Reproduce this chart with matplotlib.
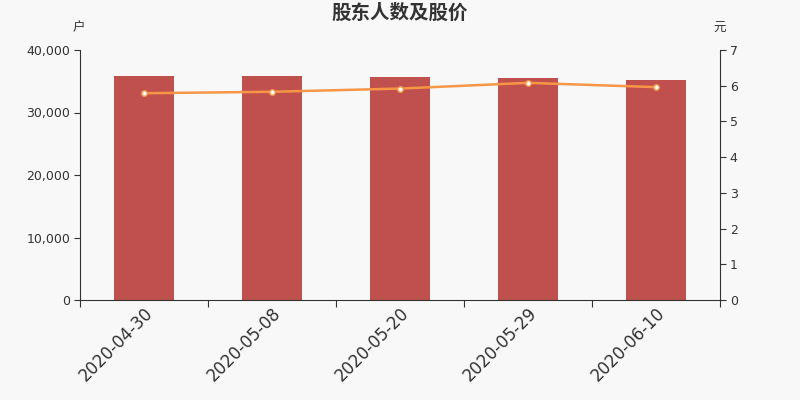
import matplotlib.pyplot as plt
import numpy as np

plt.rcParams['font.family'] = ['DejaVu Sans', 'Noto Sans CJK SC']

# 股东人数(户) 及 股价(元)
DATES = ['2020-04-30', '2020-05-08', '2020-05-20', '2020-05-29', '2020-06-10']
HOLDERS = [35840, 35890, 35680, 35520, 35200]
PRICE = [5.79, 5.83, 5.92, 6.08, 5.96]

BG = '#f8f8f8'
BAR_COLOR = '#c0504d'
LINE_COLOR = '#f79646'
TEXT_COLOR = '#333333'

fig = plt.figure(figsize=(8, 4), dpi=100, facecolor=BG)
ax = fig.add_axes([0.1, 0.25, 0.8, 0.625], facecolor=BG)
x = np.arange(len(DATES))

ax.bar(x, HOLDERS, width=0.47, color=BAR_COLOR, zorder=2)
ax.set_xlim(-0.5, len(DATES) - 0.5)
ax.set_ylim(0, 40000)
ax.set_yticks([0, 10000, 20000, 30000, 40000])
ax.set_yticklabels(['0', '10,000', '20,000', '30,000', '40,000'])

# ticks at category boundaries, labels centred under bars
ax.set_xticks(np.arange(-0.5, len(DATES), 1.0))
ax.set_xticklabels([])
ax.set_xticks(x, minor=True)
ax.set_xticklabels(DATES, minor=True, rotation=45, ha='right', rotation_mode='anchor',
                   fontsize=12, color=TEXT_COLOR)
ax.tick_params(axis='x', which='minor', length=0, pad=3)
ax.tick_params(axis='x', which='major', length=5, color=TEXT_COLOR)
ax.tick_params(axis='y', labelsize=9, colors=TEXT_COLOR, length=4, pad=3)

ax2 = ax.twinx()
ax2.plot(x, PRICE, color=LINE_COLOR, linewidth=1.8, marker='o', markersize=4,
         markerfacecolor='white', markeredgecolor=LINE_COLOR, markeredgewidth=1, zorder=3)
ax2.set_ylim(0, 7)
ax2.set_yticks(range(0, 8))
ax2.tick_params(axis='y', labelsize=9, colors=TEXT_COLOR, length=4, pad=3)

for a in (ax, ax2):
    a.spines['top'].set_visible(False)
    for s in ('left', 'right', 'bottom'):
        a.spines[s].set_color(TEXT_COLOR)
ax.spines['right'].set_visible(False)
ax2.spines['left'].set_visible(False)
ax2.spines['bottom'].set_visible(False)

fig.text(0.5, 0.967, '股东人数及股价', ha='center', va='center', fontsize=14,
         fontweight='bold', color=TEXT_COLOR, family=['Noto Sans CJK SC'])
fig.text(0.099, 0.93, '户', ha='center', va='center', fontsize=9, color=TEXT_COLOR,
         family=['Noto Sans CJK SC'])
fig.text(0.899, 0.93, '元', ha='center', va='center', fontsize=9, color=TEXT_COLOR,
         family=['Noto Sans CJK SC'])

plt.savefig('out.png', dpi=100, facecolor=BG)
